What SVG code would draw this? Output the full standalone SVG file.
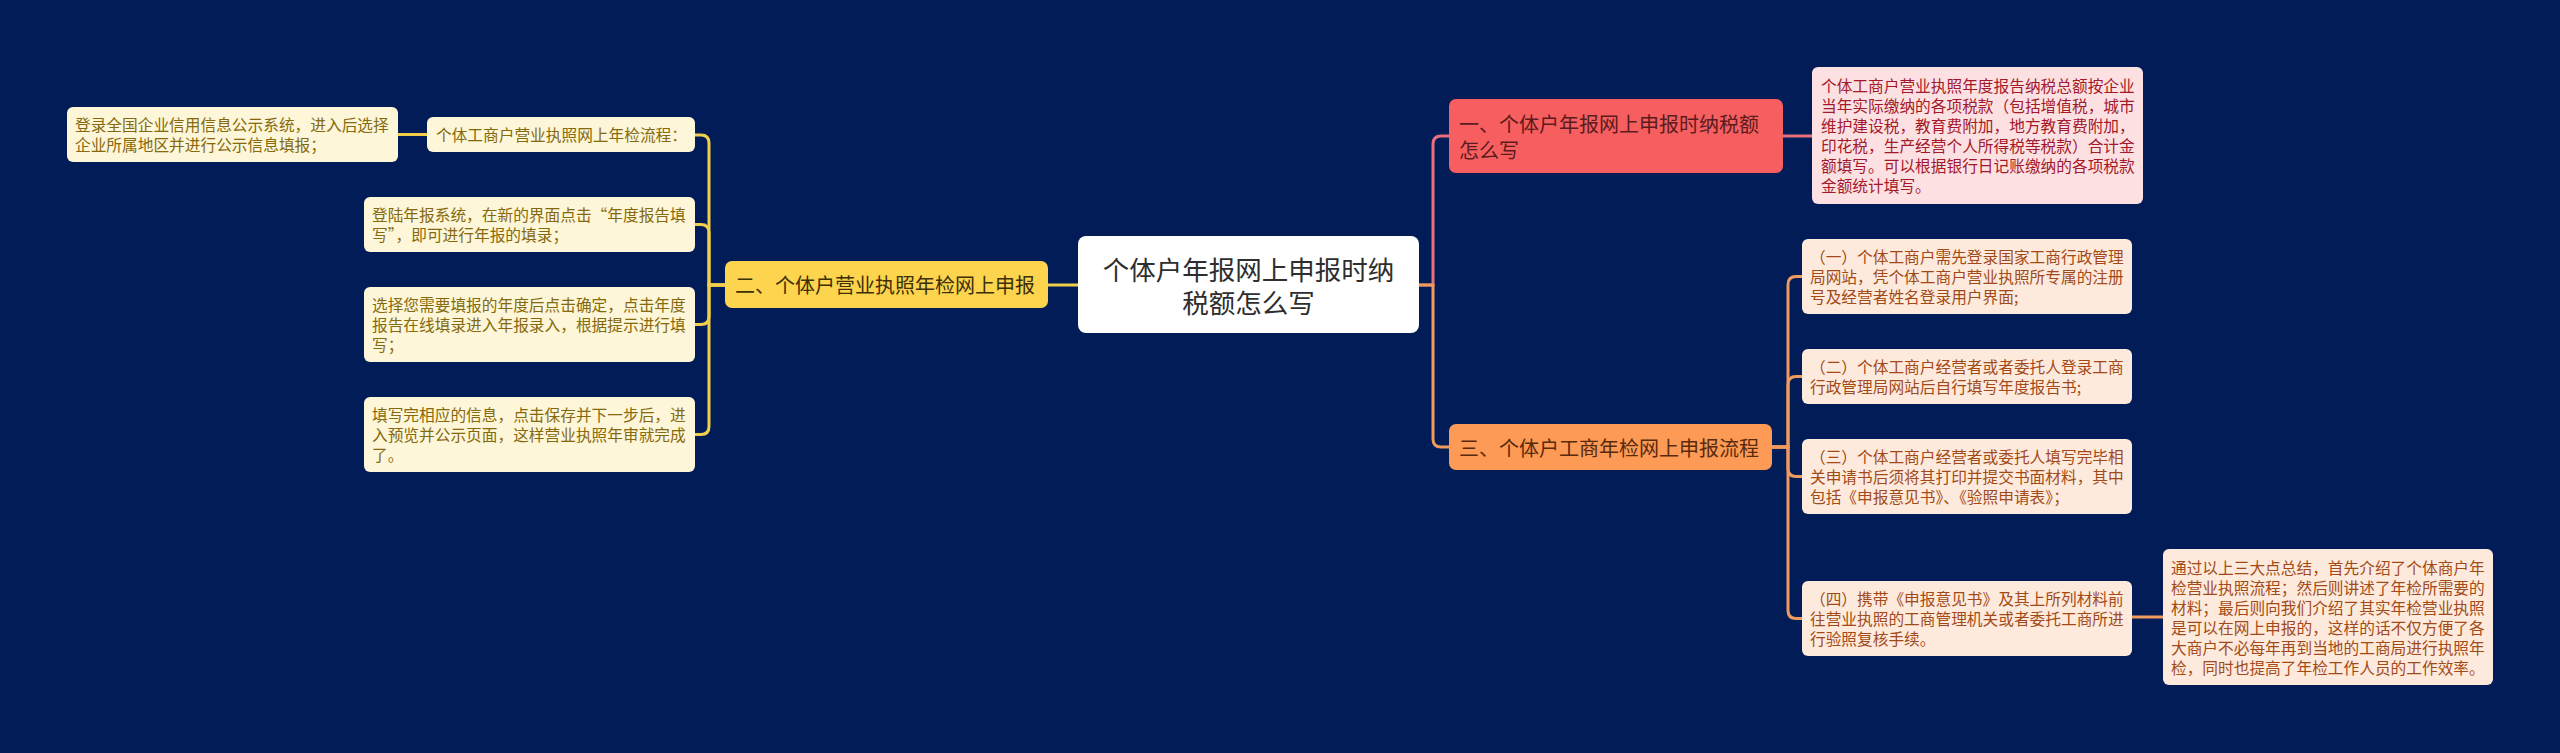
<svg xmlns="http://www.w3.org/2000/svg" width="2560" height="753" viewBox="0 0 2560 753">
<style>
text{font-family:"Noto Sans CJK SC","Noto Sans",sans-serif;dominant-baseline:central}
.c{fill:none;stroke-width:3;stroke-linecap:round}
.cy{stroke:#f2cf4a}
.cp{stroke:#e8707c}
.co{stroke:#f09a5e}
.leaf{font-size:15.7px}
.ly rect{fill:#fdf6d8}.ly text{fill:#86690c}
.lp rect{fill:#fde1e2}.lp text{fill:#a3182a}
.lo rect{fill:#feeadd}.lo text{fill:#a24a17}
.m{font-size:20px}
</style>
<rect width="2560" height="753" fill="#021c57"/>
<g id="connectors">
<path class="c cy" d="M1078 285 H1048"/>
<path class="c cy" d="M725 285 H709 V143 Q709 135 701 135 H695"/>
<path class="c cy" d="M725 285 H709 V232.5 Q709 224.5 701 224.5 H695"/>
<path class="c cy" d="M725 285 H709 V316.5 Q709 324.5 701 324.5 H695"/>
<path class="c cy" d="M725 285 H709 V426.5 Q709 434.5 701 434.5 H695"/>
<path class="c cy" d="M427 134.5 H398"/>
<path class="c cp" d="M1419 285 H1433 V144 Q1433 136 1441 136 H1449"/>
<path class="c co" d="M1419 285 H1433 V439 Q1433 447 1441 447 H1449"/>
<path class="c cp" d="M1783 136 H1812"/>
<path class="c co" d="M1772 447 H1788 V284.5 Q1788 276.5 1796 276.5 H1802"/>
<path class="c co" d="M1772 447 H1788 V384.5 Q1788 376.5 1796 376.5 H1802"/>
<path class="c co" d="M1772 447 H1788 V468.5 Q1788 476.5 1796 476.5 H1802"/>
<path class="c co" d="M1772 447 H1788 V610.5 Q1788 618.5 1796 618.5 H1802"/>
<path class="c co" d="M2132 617 H2163"/>
</g>
<g id="root">
<rect x="1078" y="236" width="341" height="97" rx="8" fill="#ffffff"/>
<text font-size="26.5" fill="#2e2e2e" text-anchor="middle"><tspan x="1248.5" y="268">个体户年报网上申报时纳</tspan><tspan x="1248.5" y="301">税额怎么写</tspan></text>
</g>
<g id="n2">
<rect x="725" y="261" width="323" height="47" rx="7" fill="#fdd44e"/>
<text class="m" x="735" y="284.5" fill="#3d3006">二、个体户营业执照年检网上申报</text>
</g>
<g id="n2a" class="ly leaf">
<rect x="427" y="117" width="268" height="35" rx="6"/>
<text x="436" y="134.5">个体工商户营业执照网上年检流程：</text>
</g>
<g id="n2a1" class="ly leaf">
<rect x="67" y="107" width="331" height="55" rx="6"/>
<text x="75" y="124.5">登录全国企业信用信息公示系统，进入后选择</text>
<text x="75" y="144.5">企业所属地区并进行公示信息填报；</text>
</g>
<g id="n2b" class="ly leaf">
<rect x="364" y="197" width="331" height="55" rx="6"/>
<text x="372" y="214.5">登陆年报系统，在新的界面点击“年度报告填</text>
<text x="372" y="234.5">写”，即可进行年报的填录；</text>
</g>
<g id="n2c" class="ly leaf">
<rect x="364" y="287" width="331" height="75" rx="6"/>
<text x="372" y="304.5">选择您需要填报的年度后点击确定，点击年度</text>
<text x="372" y="324.5">报告在线填录进入年报录入，根据提示进行填</text>
<text x="372" y="344.5">写；</text>
</g>
<g id="n2d" class="ly leaf">
<rect x="364" y="397" width="331" height="75" rx="6"/>
<text x="372" y="414.5">填写完相应的信息，点击保存并下一步后，进</text>
<text x="372" y="434.5">入预览并公示页面，这样营业执照年审就完成</text>
<text x="372" y="454.5">了。</text>
</g>
<g id="n1">
<rect x="1449" y="99" width="334" height="74" rx="7" fill="#f65e5f"/>
<text class="m" fill="#5c1b1d"><tspan x="1459" y="123">一、个体户年报网上申报时纳税额</tspan><tspan x="1459" y="149">怎么写</tspan></text>
</g>
<g id="n1a" class="lp leaf">
<rect x="1812" y="67" width="331" height="137" rx="6"/>
<text x="1821" y="85.5">个体工商户营业执照年度报告纳税总额按企业</text>
<text x="1821" y="105.5">当年实际缴纳的各项税款（包括增值税，城市</text>
<text x="1821" y="125.5">维护建设税，教育费附加，地方教育费附加，</text>
<text x="1821" y="145.5">印花税，生产经营个人所得税等税款）合计金</text>
<text x="1821" y="165.5">额填写。可以根据银行日记账缴纳的各项税款</text>
<text x="1821" y="185.5">金额统计填写。</text>
</g>
<g id="n3">
<rect x="1449" y="424" width="323" height="46" rx="7" fill="#fd9a56"/>
<text class="m" x="1459" y="447" fill="#5a2a0c">三、个体户工商年检网上申报流程</text>
</g>
<g id="n3a" class="lo leaf">
<rect x="1802" y="239" width="330" height="75" rx="6"/>
<text x="1810" y="256.5">（一）个体工商户需先登录国家工商行政管理</text>
<text x="1810" y="276.5">局网站，凭个体工商户营业执照所专属的注册</text>
<text x="1810" y="296.5">号及经营者姓名登录用户界面;</text>
</g>
<g id="n3b" class="lo leaf">
<rect x="1802" y="349" width="330" height="55" rx="6"/>
<text x="1810" y="366.5">（二）个体工商户经营者或者委托人登录工商</text>
<text x="1810" y="386.5">行政管理局网站后自行填写年度报告书;</text>
</g>
<g id="n3c" class="lo leaf">
<rect x="1802" y="439" width="330" height="75" rx="6"/>
<text x="1810" y="456.5">（三）个体工商户经营者或委托人填写完毕相</text>
<text x="1810" y="476.5">关申请书后须将其打印并提交书面材料，其中</text>
<text x="1810" y="496.5">包括《申报意见书》、《验照申请表》；</text>
</g>
<g id="n3d" class="lo leaf">
<rect x="1802" y="581" width="330" height="75" rx="6"/>
<text x="1810" y="598.5">（四）携带《申报意见书》及其上所列材料前</text>
<text x="1810" y="618.5">往营业执照的工商管理机关或者委托工商所进</text>
<text x="1810" y="638.5">行验照复核手续。</text>
</g>
<g id="n3d1" class="lo leaf">
<rect x="2163" y="549" width="330" height="136" rx="6"/>
<text x="2171" y="567">通过以上三大点总结，首先介绍了个体商户年</text>
<text x="2171" y="587">检营业执照流程；然后则讲述了年检所需要的</text>
<text x="2171" y="607">材料；最后则向我们介绍了其实年检营业执照</text>
<text x="2171" y="627">是可以在网上申报的，这样的话不仅方便了各</text>
<text x="2171" y="647">大商户不必每年再到当地的工商局进行执照年</text>
<text x="2171" y="667">检，同时也提高了年检工作人员的工作效率。</text>
</g>
</svg>
